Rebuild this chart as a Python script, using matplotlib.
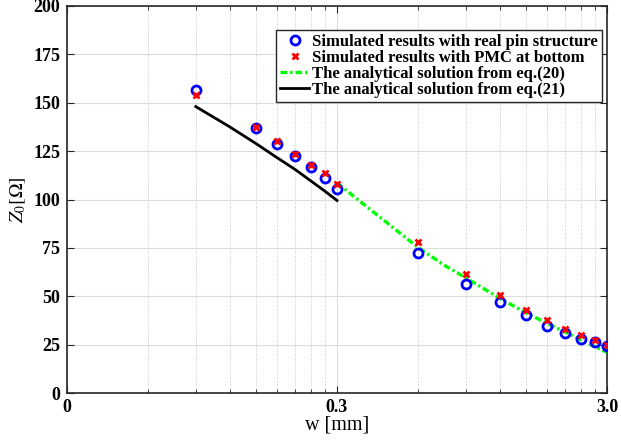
import matplotlib
matplotlib.use("Agg")
import matplotlib.pyplot as plt
from matplotlib.ticker import FixedLocator, NullFormatter, FixedFormatter

plt.rcParams['font.family'] = ['Liberation Serif', 'DejaVu Serif']
plt.rcParams['mathtext.fontset'] = 'stix'

# strip width w [mm]
w_sim = [0.09, 0.15, 0.18, 0.21, 0.24, 0.27, 0.3, 0.6, 0.9, 1.2, 1.5, 1.8, 2.1, 2.4, 2.7, 3.0]
z_real_pin = [156.4, 137.0, 128.9, 122.5, 116.6, 111.3, 105.3, 72.4, 56.5, 47.0, 40.2, 34.5, 31.0, 28.1, 26.2, 24.3]
z_pmc = [154.0, 137.5, 130.2, 123.7, 117.8, 113.7, 108.2, 78.2, 61.3, 50.5, 43.1, 37.6, 33.1, 30.2, 27.2, 24.6]

# analytical solutions
w_eq20 = [0.3, 0.45, 0.6, 0.75, 0.9, 1.2, 1.5, 1.8, 2.1, 2.4, 2.7, 3.0]
z_eq20 = [108.5, 89.0, 75.1, 66.0, 59.5, 49.0, 41.5, 36.0, 31.5, 27.5, 24.0, 21.0]
w_eq21 = [0.09, 0.12, 0.15, 0.18, 0.21, 0.24, 0.27, 0.3]
z_eq21 = [148.0, 137.6, 129.0, 121.6, 115.5, 109.6, 104.4, 99.5]

x_ticks = [0.03, 0.3, 3.0]
x_tick_labels = ['0', '0.3', '3.0']
y_ticks = [0, 25, 50, 75, 100, 125, 150, 175, 200]

fig = plt.figure(figsize=(6.21, 4.42), dpi=100)
ax = fig.add_axes([67 / 621, 1 - 393 / 442, 540 / 621, 387 / 442])

ax.plot(w_sim, z_real_pin, linestyle='none', marker='o', markersize=6.5,
        markerfacecolor='none', markeredgecolor='#0000ff', markeredgewidth=2,
        label='Simulated results with real pin structure', zorder=4)
ax.plot(w_sim, z_pmc, linestyle='none', marker='x', markersize=4.5,
        color='#ff0000', markeredgewidth=2,
        label='Simulated results with PMC at bottom', zorder=5)
ax.plot(w_eq20, z_eq20, linestyle='-.', color='#00ff00', linewidth=2.4,
        dashes=[2.0, 0.9, 0.7, 0.9],
        label='The analytical solution from eq.(20)', zorder=3)
ax.plot(w_eq21, z_eq21, linestyle='-', color='black', linewidth=2,
        label='The analytical solution from eq.(21)', zorder=3)

ax.set_xscale('log')
ax.set_xlim(0.03, 3.0)
ax.set_ylim(0, 200)
ax.xaxis.set_major_locator(FixedLocator(x_ticks))
ax.xaxis.set_major_formatter(FixedFormatter(x_tick_labels))
minor = [k * 0.03 for k in range(2, 10)] + [k * 0.3 for k in range(2, 10)]
ax.xaxis.set_minor_locator(FixedLocator(minor))
ax.xaxis.set_minor_formatter(NullFormatter())
ax.yaxis.set_major_locator(FixedLocator(y_ticks))

ax.grid(True, which='major', color='#dcdcdc', linewidth=0.8, linestyle='-')
ax.grid(True, which='minor', axis='x', color='#c8c8c8', linewidth=0.7, linestyle=':')
ax.set_axisbelow(True)

ax.tick_params(which='both', direction='in', top=True, right=True, colors='#262626')
ax.tick_params(which='major', length=5, width=0.8, labelsize=13)
ax.tick_params(axis='x', which='major', pad=4)
ax.tick_params(axis='y', which='major', pad=5)
ax.tick_params(which='minor', length=3, width=0.6)
for lab in ax.get_xticklabels() + ax.get_yticklabels():
    lab.set_fontweight('bold')
    lab.set_color('black')
for s in ax.spines.values():
    s.set_color('#262626')
    s.set_linewidth(1.2)

ax.set_xlabel('w [mm]', fontsize=14.5, labelpad=0)
ax.set_ylabel(r'$Z_0[\Omega]$', fontsize=14, labelpad=4)

leg = ax.legend(loc='upper right', bbox_to_anchor=(0.997, 0.947),
                prop={'weight': 'bold', 'size': 12}, frameon=True, fancybox=False,
                edgecolor='#262626', framealpha=1, borderpad=0.25, labelspacing=0.0,
                handlelength=1.7, handletextpad=0.2, borderaxespad=0.2)
leg.get_frame().set_linewidth(1.0)

fig.savefig('out.png', dpi=100)
